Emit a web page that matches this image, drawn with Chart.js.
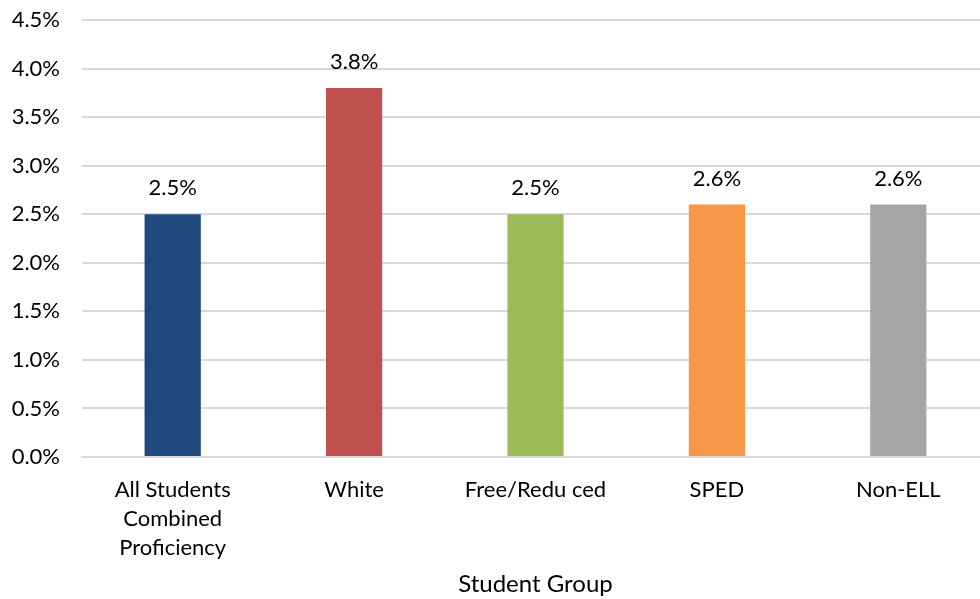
<!DOCTYPE html>
<html>
<head>
<meta charset="utf-8">
<script src="https://cdn.jsdelivr.net/npm/chart.js@4"></script>
<style>
  html, body { margin: 0; padding: 0; background: #fff; overflow: hidden; }
  #wrap { width: 989px; height: 599px; }
</style>
</head>
<body>
<div id="wrap"><canvas id="grafico"></canvas></div>
<script>
const gruppi = [["All Students", "Combined", "Proficiency"], "White", "Free/Redu ced", "SPED", "Non-ELL"];
const valori = [2.5, 3.8, 2.5, 2.6, 2.6];
const colori = ["#1F497D", "#C0504D", "#9BBB59", "#F79646", "#A5A5A5"];
const tickY = [0, 0.5, 1, 1.5, 2, 2.5, 3, 3.5, 4, 4.5];

const FONT = "Lato, 'Open Sans', sans-serif";

// etichette sopra le barre
const etichette = {
    id: "etichette",
    afterDatasetsDraw(chart) {
        const ctx = chart.ctx;
        const meta = chart.getDatasetMeta(0);
        ctx.save();
        ctx.font = "22px " + FONT;
        ctx.fillStyle = "#000";
        ctx.textAlign = "center";
        ctx.textBaseline = "bottom";
        meta.data.forEach((bar, i) => {
            ctx.fillText(valori[i].toFixed(1) + "%", bar.x, bar.y - 15);
        });
        ctx.restore();
    }
};

new Chart(document.getElementById("grafico").getContext("2d"), {
    type: 'bar',
    data: {
        labels: gruppi,
        datasets: [{
            data: valori,
            backgroundColor: colori,
            barPercentage: 0.31,
            categoryPercentage: 1
        }]
    },
    plugins: [etichette],
    options: {
        responsive: true,
        maintainAspectRatio: false,
        animation: false,
        layout: { padding: { top: 20, right: 0, left: 0, bottom: 0 } },
        plugins: {
            legend: { display: false },
            tooltip: { enabled: false }
        },
        scales: {
            x: {
                grid: { display: false },
                border: { color: '#d9d9d9', width: 2 },
                ticks: {
                    color: '#000',
                    font: { family: FONT, size: 22, lineHeight: 1.3 },
                    padding: 11,
                    maxRotation: 0,
                    autoSkip: false
                },
                title: {
                    display: true,
                    text: 'Student Group',
                    color: '#000',
                    font: { family: FONT, size: 24 },
                    padding: { top: 10, bottom: 0 }
                },
                afterFit(scale) { scale.height = 142; }
            },
            y: {
                min: 0,
                max: 4.5,
                afterBuildTicks(scale) {
                    scale.ticks = tickY.map(v => ({ value: v }));
                },
                grid: { color: '#d9d9d9', lineWidth: 2, drawTicks: false },
                border: { display: false },
                ticks: {
                    color: '#000',
                    font: { family: FONT, size: 22 },
                    padding: 22,
                    callback: v => v.toFixed(1) + '%'
                },
                afterFit(scale) {
                    scale.width = 82;
                    scale.paddingTop = 0;
                    scale.paddingBottom = 0;
                }
            }
        }
    }
});
</script>
</body>
</html>
